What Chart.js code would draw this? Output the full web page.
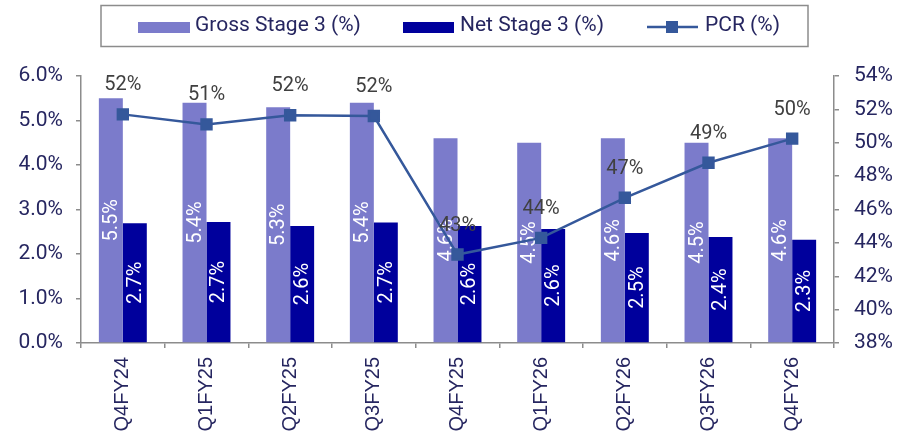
<!doctype html>
<html lang="en">
<head>
<meta charset="utf-8">
<title>Stage 3 and PCR</title>
<script src="https://cdn.jsdelivr.net/npm/chart.js@4.4.1/dist/chart.umd.min.js"></script>
<style>
	html, body { margin: 0; padding: 0; background: #fff; }
	#myChart { display: block; }
</style>
</head>
<body>
<canvas id="myChart" width="909" height="437"></canvas>
<script>
	var quarters = ["Q4FY24", "Q1FY25", "Q2FY25", "Q3FY25", "Q4FY25", "Q1FY26", "Q2FY26", "Q3FY26", "Q4FY26"];
	var grossStage3 = [5.5, 5.4, 5.3, 5.4, 4.6, 4.5, 4.6, 4.5, 4.6];
	var netStage3 = [2.69, 2.72, 2.63, 2.71, 2.63, 2.56, 2.47, 2.38, 2.32];
	var pcr = [51.7, 51.1, 51.65, 51.6, 43.3, 44.3, 46.7, 48.8, 50.25];

	var FONT = 'Roboto, sans-serif';
	var XFONT = '"Liberation Sans", Arial, sans-serif';
	var TEXT = '#262660';
	var AXIS = '#8c8c8c';
	var GROSS = '#7b7bcb';
	var NET = '#00009c';
	var LINE = '#35589b';

	Chart.defaults.font.family = FONT;
	Chart.defaults.color = TEXT;

	var extras = {
		id: 'extras',
		afterDatasetDraw: function(chart, args) {
			if (args.index > 1) return;
			var ctx = chart.ctx;
			var vals = chart.data.datasets[args.index].data;
			ctx.save();
			ctx.fillStyle = '#ffffff';
			ctx.font = '20px ' + FONT;
			ctx.textAlign = 'center';
			ctx.textBaseline = 'middle';
			args.meta.data.forEach(function(bar, i) {
				ctx.save();
				ctx.translate(bar.x, (bar.y + bar.base) / 2);
				ctx.rotate(-Math.PI / 2);
				ctx.fillText(vals[i].toFixed(1) + '%', 0, 1);
				ctx.restore();
			});
			ctx.restore();
		},
		afterDatasetsDraw: function(chart) {
			var ctx = chart.ctx;
			var meta = chart.getDatasetMeta(2);
			ctx.save();
			ctx.fillStyle = '#404040';
			ctx.font = '20px ' + FONT;
			ctx.textAlign = 'center';
			ctx.textBaseline = 'middle';
			meta.data.forEach(function(pt, i) {
				ctx.fillText(Math.round(pcr[i]) + '%', pt.x, pt.y - 29);
			});
			ctx.restore();
		},
		afterDraw: function(chart) {
			var ctx = chart.ctx;
			ctx.save();
			ctx.strokeStyle = '#8c8c8c';
			ctx.lineWidth = 1.5;
			ctx.strokeRect(101, 5.5, 707, 41);
			var cy = 26;
			ctx.font = '21px ' + FONT;
			ctx.textBaseline = 'middle';
			ctx.textAlign = 'left';
			ctx.fillStyle = GROSS;
			ctx.fillRect(138, 22, 52, 11);
			ctx.fillStyle = TEXT;
			ctx.fillText('Gross Stage 3 (%)', 195, cy);
			ctx.fillStyle = NET;
			ctx.fillRect(403, 22, 51, 11);
			ctx.fillStyle = TEXT;
			ctx.fillText('Net Stage 3 (%)', 460, cy);
			ctx.strokeStyle = LINE;
			ctx.lineWidth = 2.5;
			ctx.beginPath();
			ctx.moveTo(647, 27);
			ctx.lineTo(698, 27);
			ctx.stroke();
			ctx.fillStyle = LINE;
			ctx.fillRect(666, 21, 12, 12);
			ctx.fillStyle = TEXT;
			ctx.fillText('PCR (%)', 705, cy);
			ctx.restore();
		}
	};

	var ctx = document.getElementById('myChart');
	var myChart = new Chart(ctx, {
		type: 'bar',
		data: {
			labels: quarters,
			datasets: [{
				label: 'Gross Stage 3 (%)',
				data: grossStage3,
				backgroundColor: GROSS,
				yAxisID: 'y',
				order: 1
			},
			{
				label: 'Net Stage 3 (%)',
				data: netStage3,
				backgroundColor: NET,
				yAxisID: 'y',
				order: 1
			},
			{
				type: 'line',
				label: 'PCR (%)',
				data: pcr,
				borderColor: LINE,
				backgroundColor: LINE,
				borderWidth: 2.5,
				pointStyle: 'rect',
				pointRadius: 7,
				pointHoverRadius: 7,
				pointBackgroundColor: LINE,
				pointBorderColor: LINE,
				tension: 0,
				yAxisID: 'y2',
				order: 0
			}]
		},
		options: {
			responsive: false,
			animation: false,
			events: [],
			categoryPercentage: 0.573,
			barPercentage: 1,
			layout: { padding: { top: 76, left: 0, right: 0, bottom: 0 } },
			plugins: { legend: { display: false }, tooltip: { enabled: false } },
			scales: {
				x: {
					grid: { drawOnChartArea: false, offset: true, tickLength: 5, color: AXIS, lineWidth: 1.5 },
					border: { color: AXIS, width: 1.5 },
					ticks: { maxRotation: 90, minRotation: 90, padding: 9, color: TEXT, font: { size: 20, family: XFONT } },
					afterFit: function(s) { s.height = 94; }
				},
				y: {
					position: 'left',
					min: 0, max: 6,
					ticks: { stepSize: 1, padding: 13, color: TEXT, font: { size: 21 },
						callback: function(v) { return v.toFixed(1) + '%'; } },
					grid: { drawOnChartArea: false, tickLength: 5, color: AXIS, lineWidth: 1.5 },
					border: { color: AXIS, width: 1.5 },
					afterFit: function(s) { s.width = 81; }
				},
				y2: {
					position: 'right',
					min: 38, max: 54,
					ticks: { stepSize: 2, padding: 15, color: TEXT, font: { size: 21 },
						callback: function(v) { return v + '%'; } },
					grid: { drawOnChartArea: false, tickLength: 5, color: AXIS, lineWidth: 1.5 },
					border: { color: AXIS, width: 1.5 },
					afterFit: function(s) { s.width = 75; }
				}
			}
		},
		plugins: [extras]
	});
</script>
</body>
</html>
